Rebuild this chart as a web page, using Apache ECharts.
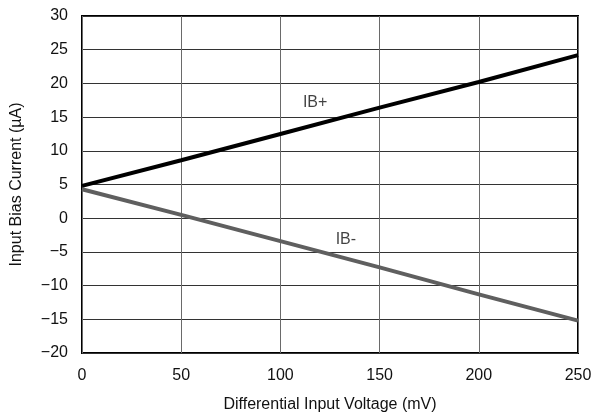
<!DOCTYPE html>
<html>
<head>
<meta charset="utf-8">
<script src="https://cdn.jsdelivr.net/npm/echarts@6/dist/echarts.min.js"></script>
<style>
  html, body { margin: 0; padding: 0; background: #fff; }
  #chart { width: 595px; height: 414px; }
</style>
</head>
<body>
<div id="chart"></div>
<script>
// Differential input voltage (mV)
const voltage = [0, 50, 100, 150, 200, 250];
// Input bias currents (µA)
const ibPlus = [4.8, 8.6, 12.5, 16.4, 20.2, 24.2];
const ibMinus = [4.3, 0.5, -3.4, -7.3, -11.3, -15.2];
// Curve labels placed in data space
const curveLabels = ['IB+', 'IB-'];
const curveLabelPos = [[117.5, 17.1], [133, -3.1]];

const font = 'Liberation Sans, Arial, sans-serif';
const fmtMinus = v => String(v).replace('-', '\u2212');

const chart = echarts.init(document.getElementById('chart'), null, { renderer: 'canvas' });
chart.setOption({
  animation: false,
  backgroundColor: '#fff',
  grid: {
    left: 82, top: 16, width: 496, height: 337,
    outerBoundsMode: 'none', containLabel: false,
    show: true, borderColor: '#000', borderWidth: 2, backgroundColor: 'transparent'
  },
  xAxis: {
    type: 'value', min: 0, max: 250, interval: 50,
    name: 'Differential Input Voltage (mV)',
    nameLocation: 'middle', nameGap: 44,
    nameTextStyle: { fontFamily: font, fontSize: 16, color: '#111' },
    axisLine: { show: false }, axisTick: { show: false },
    axisLabel: { fontFamily: font, fontSize: 16, color: '#111', margin: 15 },
    splitLine: { show: true, lineStyle: { color: '#6a6a6a', width: 1 } }
  },
  yAxis: {
    type: 'value', min: -20, max: 30, interval: 5,
    name: 'Input Bias Current (µA)',
    nameLocation: 'middle', nameGap: 57, nameRotate: 90,
    nameTextStyle: { fontFamily: font, fontSize: 16, color: '#111' },
    axisLine: { show: false }, axisTick: { show: false },
    axisLabel: { fontFamily: font, fontSize: 16, color: '#111', margin: 14, formatter: fmtMinus },
    splitLine: { show: true, lineStyle: { color: '#333', width: 1 } }
  },
  series: [
    {
      name: 'IB+', type: 'line', symbol: 'none',
      data: voltage.map((v, i) => [v, ibPlus[i]]),
      lineStyle: { color: '#000', width: 4 }, z: 3
    },
    {
      name: 'IB-', type: 'line', symbol: 'none',
      data: voltage.map((v, i) => [v, ibMinus[i]]),
      lineStyle: { color: '#5f5f5f', width: 4 }, z: 2
    },
    {
      type: 'scatter', symbolSize: 0, silent: true,
      data: curveLabels.map((t, i) => ({ name: t, value: curveLabelPos[i] })),
      label: {
        show: true, position: 'inside', formatter: p => p.name,
        fontFamily: font, fontSize: 16, color: '#111'
      }
    }
  ]
});
</script>
</body>
</html>
